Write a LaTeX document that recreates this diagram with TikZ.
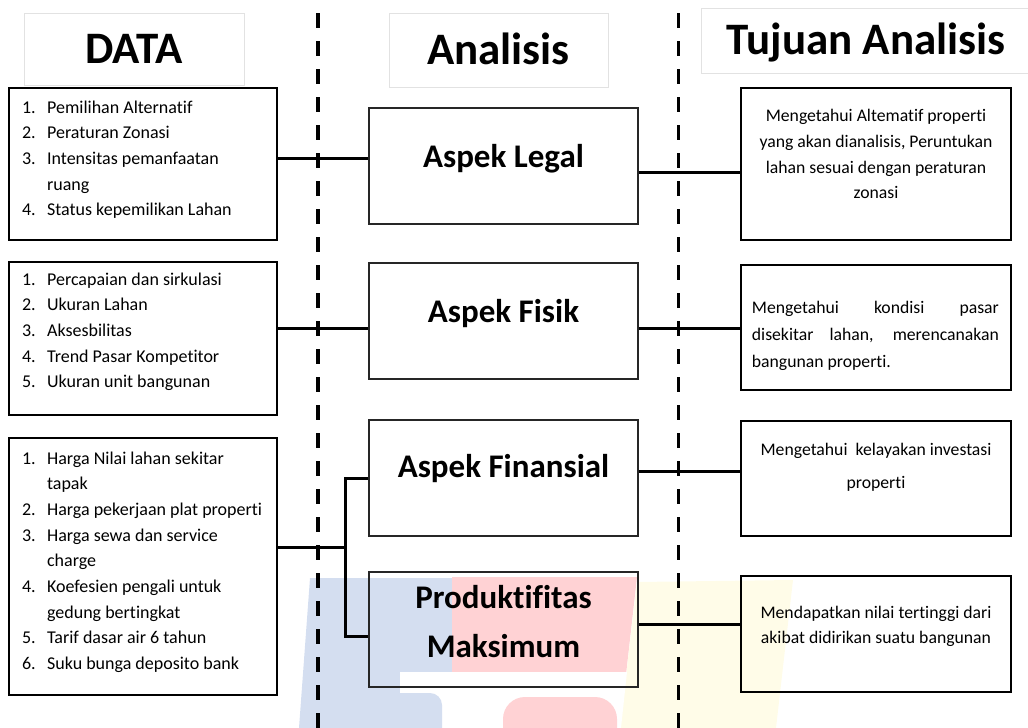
\documentclass[tikz,border=0pt]{standalone}
\usepackage{fontspec}
\setmainfont[Ligatures={NoCommon,NoContextual}]{Carlito}
\usetikzlibrary{calc}
\definecolor{wmblue}{RGB}{212,222,240}
\definecolor{wmred}{RGB}{255,210,212}
\definecolor{wmyellow}{RGB}{255,252,232}
\definecolor{hdrline}{RGB}{226,226,226}
\newcommand{\itm}[1]{\makebox[25pt][l]{#1}}
\begin{document}
\begin{tikzpicture}[x=1pt,y=-1pt,
  hdr/.style={draw=hdrline, line width=0.8pt, fill=white, inner sep=0pt,
    font=\fontsize{45}{50}\selectfont\bfseries, text height=29pt, text depth=1pt},
  databox/.style={draw=black, line width=2.2pt, minimum width=268pt, inner sep=0pt},
  midbox/.style={draw=black!85, line width=1.8pt, minimum width=269pt, minimum height=116pt, inner sep=0pt},
  goalbox/.style={draw=black, line width=2.6pt, minimum width=270pt, inner sep=0pt},
  listtxt/.style={inner sep=0pt, anchor=base west, font=\fontsize{18}{25.7}\selectfont},
  midtxt/.style={inner sep=0pt, anchor=base, font=\fontsize{33}{49}\selectfont\bfseries},
  goaltxt/.style={inner sep=0pt, anchor=base},
  conn/.style={line width=3pt},
  divider/.style={line width=3.5pt, dash pattern=on 15pt off 13pt}]
\useasboundingbox (0,0) rectangle (1028,728);

% watermark
\fill[wmblue] (310,578) -- (452,578) -- (452,728) -- (299,728) -- cycle;
\fill[wmred] (452,577) -- (637,577) -- (620,728) -- (452,728) -- cycle;
\fill[wmyellow] (637,582) -- (793,580) -- (776,728) -- (620,728) -- cycle;
\fill[white] (400,672) -- (627,672) -- (621,728) -- (400,728) -- cycle;
\fill[wmblue] (398,728) -- (398,693) [rounded corners=12pt] -- (442,693) -- (442,740) [sharp corners] -- (442,728) -- cycle;
\fill[wmred, rounded corners=22pt] (503,745) -- (503,697) -- (617,697) -- (617,745);

% dividers
\coordinate (d1a) at (318,13);
\coordinate (d1b) at (318,728);
\coordinate (d2a) at (678,13);
\coordinate (d2b) at (678,728);
\draw[divider] (d1a) -- (d1b);
\draw[divider, line width=3pt] (d2a) -- (d2b);

% headers
\node[hdr, minimum width=220pt, minimum height=72pt] (hdata) at (134,49) {DATA};
\node[hdr, minimum width=219pt, minimum height=74pt] (hana) at (498.5,50) {Analisis};
\node[hdr, minimum width=330pt, minimum height=65pt] (htuj) at (866,40.5) {Tujuan Analisis};

% left data boxes
\node[databox, minimum height=152pt] (lb1) at (143,164) {};
\node[databox, minimum height=153pt] (lb2) at (143,338.5) {};
\node[databox, minimum height=257pt] (lb3) at (143,566.5) {};

\node[listtxt] (lt1) at ([xshift=14pt,yshift=51pt]lb1.west) {\begin{tabular}[t]{@{}l@{}}
\itm{1.}Pemilihan Alternatif\\
\itm{2.}Peraturan Zonasi\\
\itm{3.}Intensitas pemanfaatan\\
\itm{}ruang\\
\itm{4.}Status kepemilikan Lahan
\end{tabular}};

\node[listtxt] (lt2) at ([xshift=14pt,yshift=53.5pt]lb2.west) {\begin{tabular}[t]{@{}l@{}}
\itm{1.}Percapaian dan sirkulasi\\
\itm{2.}Ukuran Lahan\\
\itm{3.}Aksesbilitas\\
\itm{4.}Trend Pasar Kompetitor\\
\itm{5.}Ukuran unit bangunan
\end{tabular}};

\node[listtxt] (lt3) at ([xshift=14pt,yshift=102.5pt]lb3.west) {\begin{tabular}[t]{@{}l@{}}
\itm{1.}Harga Nilai lahan sekitar\\
\itm{}tapak\\
\itm{2.}Harga pekerjaan plat properti\\
\itm{3.}Harga sewa dan service\\
\itm{}charge\\
\itm{4.}Koefesien pengali untuk\\
\itm{}gedung bertingkat\\
\itm{5.}Tarif dasar air 6 tahun\\
\itm{6.}Suku bunga deposito bank
\end{tabular}};

% middle analysis boxes
\node[midbox] (al) at (503.5,166) {};
\node[midbox] (af) at (503.5,321) {};
\node[midbox] (afin) at (503.5,478) {};
\node[midbox, minimum height=115pt] (pm) at (503.5,629.5) {};

\node[midtxt] (tal) at ([yshift=-1pt]al.center) {Aspek Legal};
\node[midtxt] (taf) at ([yshift=-1pt]af.center) {Aspek Fisik};
\node[midtxt] (tafin) at ([yshift=1pt]afin.center) {Aspek Finansial};
\node[midtxt] (tpm) at ([yshift=21.5pt]pm.center) {\begin{tabular}[t]{@{}c@{}}Produktifitas\\Maksimum\end{tabular}};

% right goal boxes
\node[goalbox, minimum height=152pt] (rb1) at (876,164) {};
\node[goalbox, minimum height=125pt] (rb2) at (876,327.5) {};
\node[goalbox, minimum height=115pt] (rb3) at (876,478.5) {};
\node[goalbox, minimum height=116pt] (rb4) at (876,634) {};

\node[goaltxt, font=\fontsize{17.7}{25.8}\selectfont] (trb1) at ([yshift=42.5pt]rb1.center) {\begin{tabular}[t]{@{}c@{}}
Mengetahui Altematif properti\\
yang akan dianalisis, Peruntukan\\
lahan sesuai dengan peraturan\\
zonasi
\end{tabular}};

\node[goaltxt, anchor=base west, font=\fontsize{17.7}{27}\selectfont] (trb2) at ([xshift=12pt,yshift=14.5pt]rb2.west) {\begin{tabular}[t]{@{}l@{}}
\makebox[247pt][s]{Mengetahui kondisi pasar}\\
\makebox[247pt][s]{disekitar lahan, merencanakan}\\
bangunan properti.
\end{tabular}};

\node[goaltxt, font=\fontsize{17.7}{32.5}\selectfont] (trb3) at ([yshift=23pt]rb3.center) {\begin{tabular}[t]{@{}c@{}}
Mengetahui\hspace{4pt} kelayakan investasi\\
properti
\end{tabular}};

\node[goaltxt, font=\fontsize{17.7}{25}\selectfont] (trb4) at ([yshift=16pt]rb4.center) {\begin{tabular}[t]{@{}c@{}}
Mendapatkan nilai tertinggi dari\\
akibat didirikan suatu bangunan
\end{tabular}};

% connectors
\draw[conn] ([yshift=6pt]lb1.east) -- ([yshift=8pt]al.west);
\draw[conn] ([yshift=-6pt]al.east) -- ([yshift=-8pt]rb1.west);
\draw[conn] ([yshift=10.5pt]lb2.east) -- ([yshift=-7pt]af.west);
\draw[conn] ([yshift=-7pt]af.east) -- ([yshift=-0.5pt]rb2.west);
\coordinate (brk) at (345,547);
\draw[conn] ([yshift=19.5pt]lb3.east) -- (brk);
\draw[conn] (afin.west) -| (brk) |- ([yshift=-7pt]pm.west);
\draw[conn] ([yshift=7pt]afin.east) -- ([yshift=7.5pt]rb3.west);
\draw[conn] ([yshift=5.5pt]pm.east) -- ([yshift=10pt]rb4.west);
\end{tikzpicture}
\end{document}
